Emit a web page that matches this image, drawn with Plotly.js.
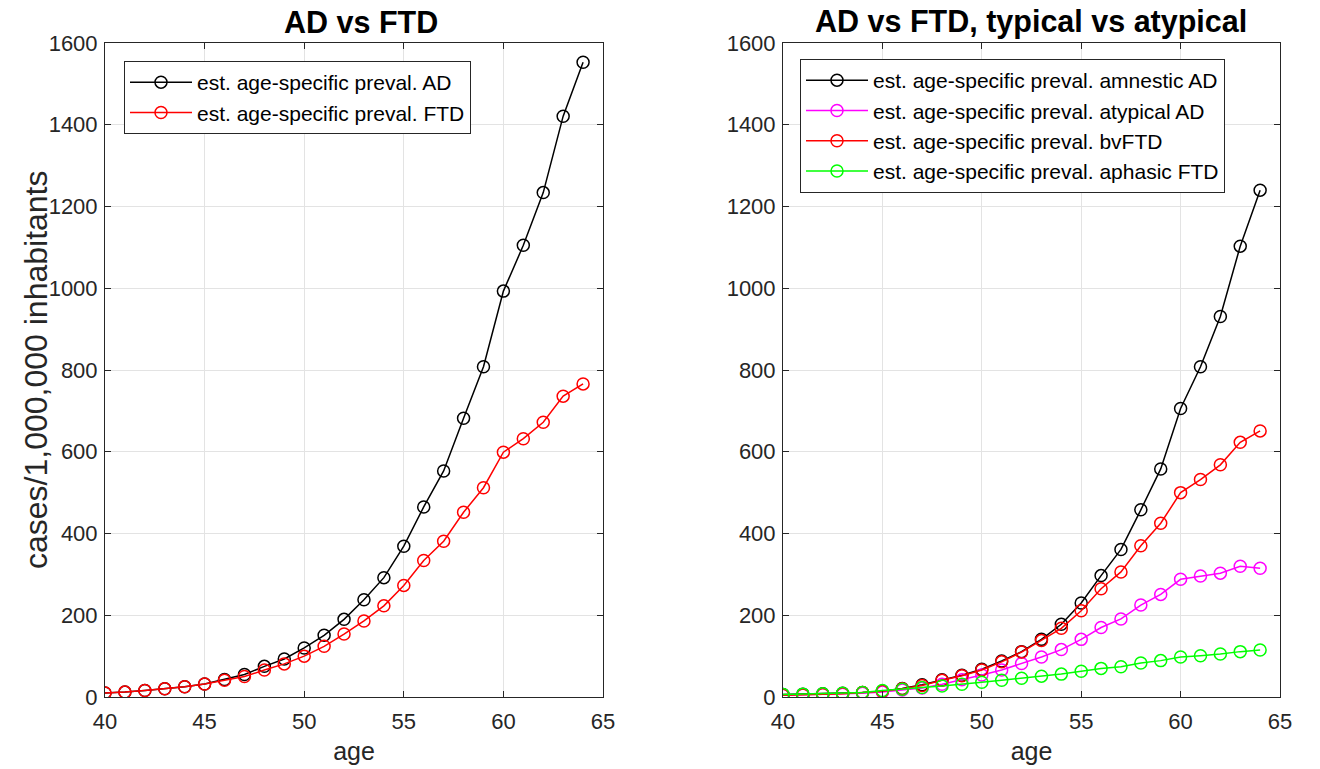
<!DOCTYPE html>
<html>
<head>
<meta charset="utf-8">
<script src="https://cdn.plot.ly/plotly-3.0.1.min.js"></script>
<style>html,body{margin:0;padding:0;background:#fff;}#chart{width:1320px;height:769px;}</style>
</head>
<body>
<div id="chart"></div>
<script>
const ages = [40,41,42,43,44,45,46,47,48,49,50,51,52,53,54,55,56,57,58,59,60,61,62,63,64];

const prevAD  = [10,12,16,20,25,32,43,55,75,93,120,151,190,238,292,369,465,553,682,808,993,1105,1234,1421,1553];
const prevFTD = [10,12,16,20,25,32,41,50,66,81,100,124,154,186,223,273,334,381,452,512,599,632,672,736,766];

const amnesticAD = [6,7,8,9,11,14,21,30,42,53,68,88,111,141,178,230,297,361,458,558,706,808,931,1103,1240];
const atypicalAD = [4,5,6,7,9,12,17,22,31,42,54,66,82,98,116,141,170,191,225,251,288,296,303,320,315];
const bvFTD      = [4,5,6,8,11,14,20,28,41,52,66,86,110,138,168,211,265,306,370,425,500,532,568,623,651];
const aphasicFTD = [6,7,8,9,11,16,19,23,27,31,36,41,46,51,56,63,70,74,83,89,98,101,105,111,115];

const leftNames = ['est. age-specific preval. AD','est. age-specific preval. FTD'];
const rightNames = ['est. age-specific preval. amnestic AD','est. age-specific preval. atypical AD','est. age-specific preval. bvFTD','est. age-specific preval. aphasic FTD'];
const titles = ['AD vs FTD','AD vs FTD, typical vs atypical'];
const xTitle = 'age';
const yTitle = 'cases/1,000,000 inhabitants';
const xTicks = [40,45,50,55,60,65];
const yTicks = [0,200,400,600,800,1000,1200,1400,1600];

const FONT = 'Liberation Sans, Arial, Helvetica, sans-serif';

function tr(y, name, color, xa, ya, leg) {
  return {
    x: ages, y: y, name: name, type: 'scatter', mode: 'lines+markers',
    xaxis: xa, yaxis: ya, legend: leg,
    line: {color: color, width: 1.5},
    marker: {symbol: 'circle-open', size: 12, color: color, line: {color: color, width: 1.5}}
  };
}

const data = [
  tr(prevAD, leftNames[0], '#000000', 'x', 'y', 'legend'),
  tr(prevFTD, leftNames[1], '#ff0000', 'x', 'y', 'legend'),
  tr(amnesticAD, rightNames[0], '#000000', 'x2', 'y2', 'legend2'),
  tr(atypicalAD, rightNames[1], '#ff00ff', 'x2', 'y2', 'legend2'),
  tr(bvFTD, rightNames[2], '#ff0000', 'x2', 'y2', 'legend2'),
  tr(aphasicFTD, rightNames[3], '#00ff00', 'x2', 'y2', 'legend2')
];

const axColor = '#262626';
function xaxis(domain, anchor) {
  return {
    domain: domain, anchor: anchor, range: [40, 65], tickvals: xTicks,
    showgrid: true, gridcolor: '#e3e3e3', gridwidth: 1, zeroline: false,
    showline: true, linecolor: axColor, linewidth: 1, mirror: 'ticks',
    ticks: 'inside', ticklen: 6, tickcolor: axColor, ticklabelstandoff: 5,
    tickfont: {family: FONT, size: 22, color: axColor},
    title: {text: xTitle, font: {family: FONT, size: 25, color: axColor}, standoff: 9}
  };
}
function yaxis(domain, anchor) {
  return {
    domain: domain, anchor: anchor, range: [0, 1600], tickvals: yTicks,
    showgrid: true, gridcolor: '#e3e3e3', gridwidth: 1, zeroline: false,
    showline: true, linecolor: axColor, linewidth: 1, mirror: 'ticks',
    ticks: 'inside', ticklen: 6, tickcolor: axColor, ticklabelstandoff: 2,
    tickfont: {family: FONT, size: 22, color: axColor}
  };
}

const legendBase = {
  bgcolor: '#ffffff', bordercolor: axColor, borderwidth: 1,
  font: {family: FONT, size: 21, color: '#000'},
  xanchor: 'left', yanchor: 'top', itemwidth: 62
};

const yd = [1 - 697/769, 1 - 43/769];
const layout = {
  width: 1320, height: 769,
  margin: {l: 0, r: 0, t: 0, b: 0},
  paper_bgcolor: '#ffffff', plot_bgcolor: '#ffffff',
  showlegend: true,
  xaxis: xaxis([105/1320, 603/1320], 'y'),
  yaxis: yaxis(yd, 'x'),
  xaxis2: xaxis([783/1320, 1280/1320], 'y2'),
  yaxis2: yaxis(yd, 'x2'),
  legend: Object.assign({}, legendBase, {x: 124/1320, y: 1 - 61/769}),
  legend2: Object.assign({}, legendBase, {x: 800/1320, y: 1 - 59/769}),
  annotations: [
    {text: '<b>' + titles[0] + '</b>', xref: 'paper', yref: 'paper', x: 361/1320, y: 1 - 22/769, xanchor: 'center', yanchor: 'middle', showarrow: false, font: {family: FONT, size: 30.5, color: '#000'}},
    {text: '<b>' + titles[1] + '</b>', xref: 'paper', yref: 'paper', x: 1031/1320, y: 1 - 22/769, xanchor: 'center', yanchor: 'middle', showarrow: false, font: {family: FONT, size: 30.5, color: '#000'}},
    {text: yTitle, xref: 'paper', yref: 'paper', x: 36/1320, y: 1 - 370/769, xanchor: 'center', yanchor: 'middle', textangle: -90, showarrow: false, font: {family: FONT, size: 32, color: axColor}}
  ]
};

Plotly.newPlot('chart', data, layout, {displayModeBar: false, staticPlot: true});
</script>
</body>
</html>
